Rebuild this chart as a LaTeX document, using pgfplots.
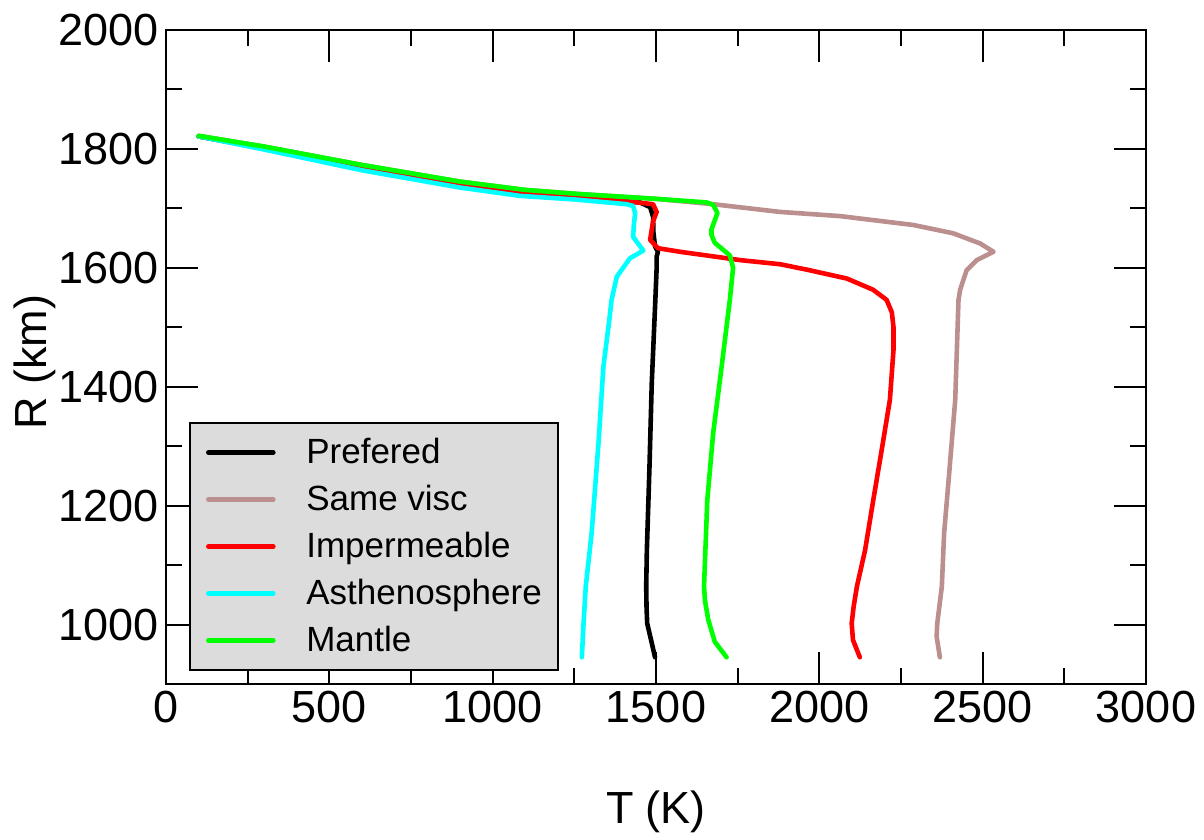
\documentclass[border=0pt]{standalone}
\usepackage{fontspec}
\setmainfont{Liberation Sans}
\usepackage{pgfplots}
\pgfplotsset{compat=1.18}
\definecolor{rosy}{HTML}{BC8F8F}
\definecolor{aqua}{HTML}{00FFFF}
\definecolor{lime}{HTML}{00FF00}
\definecolor{leggray}{HTML}{DCDCDC}
\begin{document}
\begin{tikzpicture}
\useasboundingbox (-83pt,-78pt) rectangle (519pt,342pt);
\begin{axis}[at={(0pt,0pt)}, anchor=south west, scale only axis,
  width=490pt, height=327pt,
  xmin=0, xmax=3000, ymin=900, ymax=2000,
  xtick={0,500,...,3000}, ytick={1000,1200,...,2000},
  minor x tick num=1, minor y tick num=1,
  tick align=inside, major tick length=16pt, minor tick length=8pt,
  axis line style={line width=1pt},
  every tick/.style={black, line width=1pt},
  tick label style={font=\fontsize{22.5}{27}\selectfont},
  /pgf/number format/assume math mode=true,
  /pgf/number format/1000 sep={},
  xlabel={T (K)}, ylabel={R (km)},
  label style={font=\fontsize{22.5}{27}\selectfont},
  xlabel style={at={(axis description cs:0.5,-0.1957)}, anchor=center},
  ylabel style={at={(axis description cs:-0.134,0.492)}, anchor=center},
  legend style={at={(axis description cs:0.0235,0.0199)}, anchor=south west,
    fill=leggray, draw=black, line width=1pt,
    font=\fontsize{17.5}{21}\selectfont,
    inner xsep=8pt, inner ysep=3pt, row sep=0pt,
    nodes={inner sep=0pt, minimum height=23.5pt}},
  legend cell align=left,
  legend image code/.code={\draw[#1] (0pt,0pt) -- (32.5pt,0pt); \path[draw=none] (0pt,0pt) -- (49pt,0pt);},
  every axis plot/.append style={line width=2.3pt, line join=round, line cap=round},
]
\addplot[black] coordinates {
(100,1821) (300,1801) (600,1768) (900,1740) (1100,1725) (1300,1716) (1451,1710)
(1482,1702) (1491,1686) (1492,1660) (1497,1636) (1506,1627) (1502,1619) (1502,1600)
(1498,1546) (1487,1406) (1480,1265) (1472,1125) (1470,1064) (1471,1030) (1473,1002)
(1487,969) (1497,945)};
\addlegendentry{Prefered}
\addplot[rosy] coordinates {
(100,1822) (300,1804) (600,1773) (900,1745) (1100,1731) (1267,1724) (1500,1716)
(1675,1707) (1880,1694) (2063,1687) (2288,1672) (2410,1658) (2492,1641) (2533,1627)
(2482,1613) (2451,1596) (2431,1563) (2426,1546) (2416,1378) (2395,1238) (2382,1154)
(2375,1064) (2361,1002) (2359,980) (2369,945)};
\addlegendentry{Same visc}
\addplot[red] coordinates {
(100,1821) (300,1801) (600,1768) (900,1740) (1100,1725) (1300,1716) (1441,1710)
(1491,1707) (1502,1694) (1491,1678) (1482,1647) (1506,1633) (1573,1627) (1757,1613)
(1880,1606) (1961,1597) (2084,1582) (2165,1563) (2206,1546) (2222,1525) (2227,1500) (2227,1462)
(2216,1378) (2191,1294) (2165,1209) (2140,1125) (2115,1064) (2105,1030) (2099,1002)
(2103,974) (2124,945)};
\addlegendentry{Impermeable}
\addplot[aqua] coordinates {
(100,1821) (300,1799) (600,1764) (900,1735) (1084,1721) (1250,1715) (1410,1707)
(1430,1704) (1436,1692) (1432,1670) (1430,1652) (1461,1629) (1420,1616) (1380,1585)
(1364,1546) (1357,1512) (1339,1434) (1324,1305) (1303,1154) (1285,1064) (1278,1000)
(1273,945)};
\addlegendentry{Asthenosphere}
\addplot[lime] coordinates {
(100,1822) (300,1804) (600,1773) (900,1745) (1100,1731) (1267,1724) (1500,1716)
(1655,1710) (1675,1706) (1688,1692) (1670,1665) (1670,1655) (1680,1642) (1726,1621)
(1736,1600) (1726,1546) (1701,1434) (1675,1322) (1657,1209) (1647,1064) (1650,1040)
(1660,1008) (1680,971) (1716,945)};
\addlegendentry{Mantle}
\end{axis}
\end{tikzpicture}
\end{document}
